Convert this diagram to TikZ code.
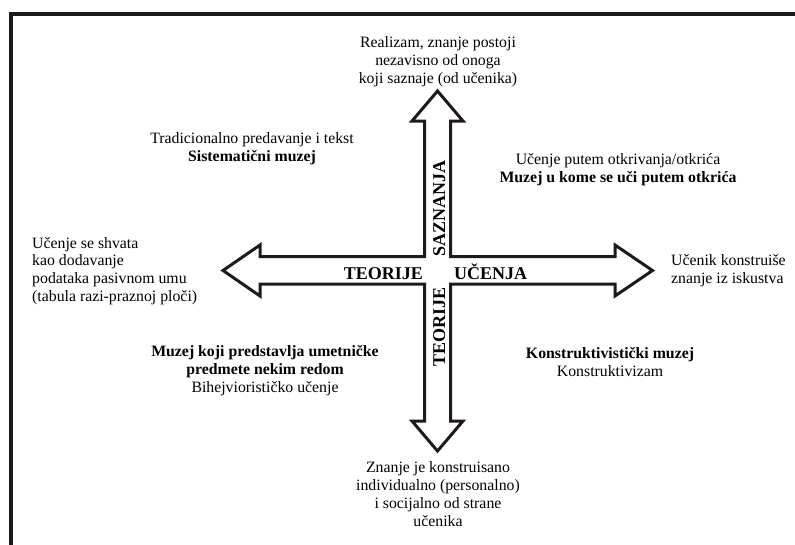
\documentclass[tikz,border=0pt]{standalone}
\usepackage{fontspec}
\setmainfont{Liberation Serif}
\definecolor{ink}{HTML}{1F1A17}
\begin{document}
\begin{tikzpicture}[x=1pt,y=-1pt,
  txt/.style={inner sep=0pt,align=center,font=\fontsize{15.8}{18}\selectfont},
  txtl/.style={inner sep=0pt,align=left,anchor=west,font=\fontsize{15.8}{17.8}\selectfont},
  lbl/.style={inner sep=0pt,font=\fontsize{18}{20}\selectfont\bfseries},
  crossarrow/.style={draw=ink,line width=3pt,fill=white,line join=miter,miter limit=10}]
\useasboundingbox (0,0) rectangle (795,544);
\fill[white] (0,0) rectangle (795,544);
\draw[ink,line width=3.5pt] (797,14) -- (11,14) -- (11,546);
% cross of arrows
\draw[crossarrow] (437.5,91) -- (463,121) -- (450.5,121) -- (450.5,256.5) -- (615,256.5) -- (615,245)
  -- (652.5,270.5) -- (615,296) -- (615,284) -- (450.5,284) -- (450.5,421) -- (463,421)
  -- (437.5,451) -- (412,421) -- (424.5,421) -- (424.5,284) -- (260,284) -- (260,296)
  -- (223,270.5) -- (260,245) -- (260,256.5) -- (424.5,256.5) -- (424.5,121) -- (412,121) -- cycle;
% labels on arrows
\node[lbl,anchor=base east] (teorijeH) at (423,279) {TEORIJE};
\node[lbl,anchor=base west] (ucenja) at (454,279) {UČENJA};
\node[lbl,rotate=90,anchor=base west] (saznanja) at (445,256.5) {SAZNANJA};
\node[lbl,rotate=90,anchor=base west] (teorijeV) at (445,366.5) {TEORIJE};
% texts
\node[txt] (top) at (438,61.5) {Realizam, znanje postoji\\nezavisno od onoga\\koji saznaje (od učenika)};
\node[txt] (ul) at (252,148.5) {Tradicionalno predavanje i tekst\\\textbf{Sistematični muzej}};
\node[txt] (ur) at (618,170) {Učenje putem otkrivanja/otkrića\\\textbf{Muzej u kome se uči putem otkrića}};
\node[txtl] (left) at (32,271) {Učenje se shvata\\kao dodavanje\\podataka pasivnom umu\\(tabula razi-praznoj ploči)};
\node[txtl] (right) at (671,271) {Učenik konstruiše\\znanje iz iskustva};
\node[txt] (ll) at (265,371) {\textbf{Muzej koji predstavlja umetničke}\\\textbf{predmete nekim redom}\\Bihejviorističko učenje};
\node[txt] (lr) at (610,362) {\textbf{Konstruktivistički muzej}\\Konstruktivizam};
\node[txt] (bottom) at (438,494) {Znanje je konstruisano\\individualno (personalno)\\i socijalno od strane\\učenika};
\end{tikzpicture}
\end{document}
